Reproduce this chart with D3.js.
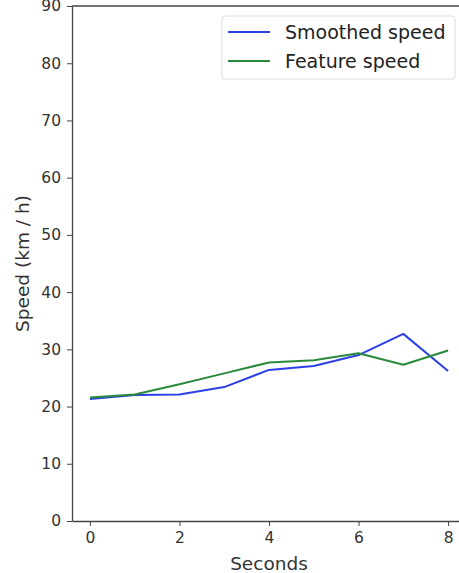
<!DOCTYPE html>
<meta charset="utf-8">
<style>
  body { margin: 0; background: #fff; }
  .tick text { font: 15.5px "DejaVu Sans", sans-serif; fill: #333; }
  .tick line { stroke: #444; }
  .domain { stroke: #444; stroke-width: 1.3px; }
  .line { fill: none; stroke-width: 2px; stroke-linejoin: round; }
</style>
<svg width="459" height="573"></svg>
<script src="https://cdn.jsdelivr.net/npm/d3@7"></script>
<script>

  // data
  var seconds = [0, 1, 2, 3, 4, 5, 6, 7, 8];
  var smoothedSpeed = [21.3, 22.0, 22.1, 23.4, 26.4, 27.1, 29.0, 32.7, 26.2];
  var featureSpeed = [21.6, 22.1, 23.9, 25.8, 27.7, 28.1, 29.3, 27.3, 29.8];
  var seriesNames = ["Smoothed speed", "Feature speed"];
  var seriesColors = ["#2b3fe6", "#2a8a3c"];
  var xTicks = [0, 2, 4, 6, 8];
  var yTicks = [0, 10, 20, 30, 40, 50, 60, 70, 80, 90];

  var svg = d3.select("svg");

  var xScale = d3.scaleLinear().domain([-0.4, 8.4]).range([72, 466]);
  var yScale = d3.scaleLinear().domain([0, 90]).range([521, 6]);

  // axes
  svg.append("g")
    .attr("transform", "translate(0,521)")
    .call(d3.axisBottom(xScale).tickValues(xTicks).tickSize(5).tickPadding(6).tickSizeOuter(0));

  svg.append("g")
    .attr("transform", "translate(72,0)")
    .call(d3.axisLeft(yScale).tickValues(yTicks).tickSize(5).tickPadding(6).tickSizeOuter(0));

  // top spine
  svg.append("line")
    .attr("x1", 72).attr("x2", 466)
    .attr("y1", yScale(90)).attr("y2", yScale(90))
    .attr("stroke", "#444").attr("stroke-width", 1.3);

  // axis labels
  svg.append("text")
    .attr("x", (xScale(0) + xScale(8)) / 2)
    .attr("y", 570)
    .attr("text-anchor", "middle")
    .style("font", "18.5px 'DejaVu Sans', sans-serif")
    .attr("fill", "#333")
    .text("Seconds");

  svg.append("text")
    .attr("transform", "translate(29," + yScale(45) + ") rotate(-90)")
    .attr("text-anchor", "middle")
    .style("font", "18.5px 'DejaVu Sans', sans-serif")
    .attr("fill", "#333")
    .text("Speed (km / h)");

  // lines
  var line = d3.line()
    .x(function (d, i) { return xScale(seconds[i]); })
    .y(function (d) { return yScale(d); });

  var series = [smoothedSpeed, featureSpeed];

  svg.selectAll(".line")
    .data(series)
    .enter().append("path")
    .attr("class", "line")
    .attr("d", line)
    .style("stroke", function (d, i) { return seriesColors[i]; });

  // legend
  var legend = svg.append("g").attr("transform", "translate(222,16)");
  legend.append("rect")
    .attr("width", 233).attr("height", 63).attr("rx", 3)
    .attr("fill", "#fff").attr("stroke", "#ddd");

  var item = legend.selectAll(".item")
    .data(seriesNames)
    .enter().append("g")
    .attr("transform", function (d, i) { return "translate(0," + (16 + i * 29) + ")"; });

  item.append("line")
    .attr("x1", 6).attr("x2", 48)
    .attr("stroke-width", 2)
    .attr("stroke", function (d, i) { return seriesColors[i]; });

  item.append("text")
    .attr("x", 63)
    .attr("dy", "0.35em")
    .style("font", "19px 'DejaVu Sans', sans-serif")
    .attr("fill", "#222")
    .text(function (d) { return d; });

</script>
